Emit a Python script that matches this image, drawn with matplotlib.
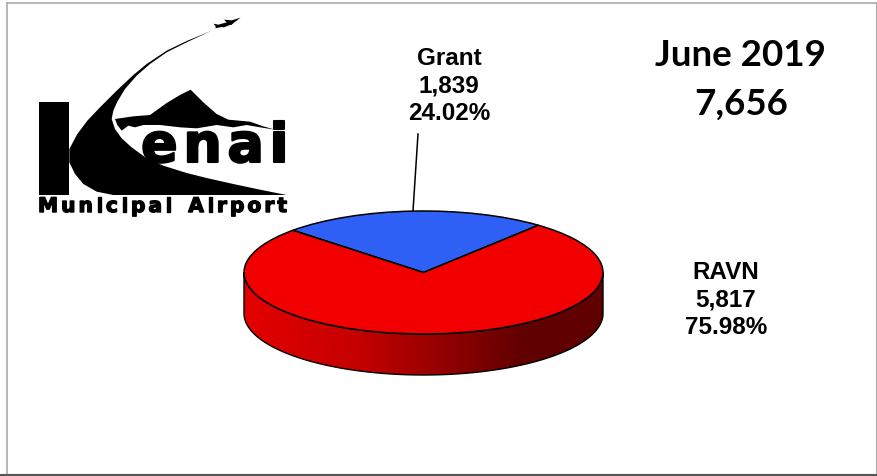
import numpy as np
import matplotlib
matplotlib.use('Agg')
import matplotlib.pyplot as plt
from matplotlib.patches import Polygon, PathPatch, Rectangle
from matplotlib.path import Path
from matplotlib.colors import LinearSegmentedColormap
import matplotlib.patheffects as pe

title = 'June 2019'
total = '7,656'
carriers = ['Grant', 'RAVN']
passengers = [1839, 5817]
shares = ['24.02%', '75.98%']
colors = ['#2f60f5', '#f20000']

W, H = 878, 477
fig = plt.figure(figsize=(W / 100, H / 100), dpi=100)

# page layer in pixel coordinates, y pointing down
ax = fig.add_axes([0, 0, 1, 1])
ax.set_xlim(0, W)
ax.set_ylim(H, 0)
ax.axis('off')

# slide border
ax.plot([7.5, 7.5], [3.5, 477], color='#aaaaaa', lw=1.2)
ax.plot([7.5, 877], [3.5, 3.5], color='#aaaaaa', lw=1.2)
ax.plot([877, 877], [3.5, 477], color='#aaaaaa', lw=1.5)
ax.plot([0, 878], [476.3, 476.3], color='#555555', lw=1.5)


def outline(pts):
    pts = np.array(pts, dtype=float)
    codes = [Path.MOVETO] + [Path.LINETO] * (len(pts) - 1) + [Path.CLOSEPOLY]
    return Path(np.vstack([pts, pts[0]]), codes)


def spaced_text(x0, x1, base, s, size, stroke=0.0):
    # one text per letter, spread evenly so the word runs from x0 to x1
    rend = fig.canvas.get_renderer()
    parts = []
    for ch in s:
        t = ax.text(0, base, ch, family='DejaVu Sans', weight='bold', fontsize=size, va='baseline', ha='left', color='black')
        if stroke:
            t.set_path_effects([pe.withStroke(linewidth=stroke, foreground='black')])
        w = t.get_window_extent(rend).width if ch != ' ' else size * 0.7
        parts.append((t, w))
    gap = (x1 - x0 - sum(p[1] for p in parts)) / (len(parts) - 1)
    x = x0
    for t, w in parts:
        t.set_x(x)
        x += w + gap


# logo, outlines traced on a 3x grid
logo = dict(facecolor='black', edgecolor='none')
ax.add_patch(Rectangle((39.5, 103), 30, 93, **logo))
swoosh = [(635, 95), (560, 126), (500, 155), (440, 195), (400, 228), (350, 275), (300, 325),
          (262, 365), (232, 405), (208, 450), (208, 490), (225, 525), (250, 555), (290, 578),
          (340, 588), (860, 588), (780, 572), (700, 555), (620, 537), (560, 522), (490, 500),
          (440, 478), (395, 445), (365, 418), (345, 390), (335, 360), (340, 335), (352, 308),
          (375, 270), (410, 230), (450, 195), (500, 160), (560, 130)]
ax.add_patch(PathPatch(outline(np.array(swoosh) / 3), **logo))
mountain = [(345, 360), (400, 352), (450, 348), (500, 312), (540, 288), (572, 272), (610, 310),
            (650, 345), (685, 362), (750, 368), (790, 382), (825, 392), (780, 385), (740, 378),
            (700, 385), (650, 378), (590, 388), (540, 385), (480, 378), (430, 378), (405, 385),
            (385, 380), (365, 395), (352, 378)]
ax.add_patch(Polygon(np.array(mountain) / 3, closed=True, **logo))
plane = [(722, 56), (695, 64), (672, 62), (680, 70), (655, 77), (641, 74), (648, 84),
         (645, 88), (665, 84), (672, 85), (690, 78), (694, 78), (702, 71)]
ax.add_patch(Polygon(np.array(plane) / 3, closed=True, **logo))
spaced_text(141, 288, 163, 'enai', 39, stroke=1.5)
spaced_text(38, 287, 213, 'Municipal Airport', 14.5, stroke=1.0)

# headline
ax.text(740, 55, title, family='Lato', weight='bold', fontsize=26.5, ha='center', va='center', color='black')
ax.text(741, 104, total, family='Lato', weight='bold', fontsize=26.5, ha='center', va='center', color='black')

# leader line from the Grant label to its slice
ax.plot([418, 413], [135, 212], color='black', lw=1.1)

# slice labels
lab = dict(family='Liberation Sans', weight='bold', fontsize=17.5, ha='center', va='center', color='black', linespacing=1.27)
ax.text(449, 86, f'{carriers[0]}\n{passengers[0]:,}\n{shares[0]}', **lab)
ax.text(726, 300, f'{carriers[1]}\n{passengers[1]:,}\n{shares[1]}', **lab)

# pie axes sit over the ellipse, drawn squashed for the tilted look
x0, x1, y0, y1 = 244, 603, 212, 335
depth = 41
pie_ax = fig.add_axes([x0 / W, 1 - (y1 + depth) / H, (x1 - x0) / W, (y1 - y0 + depth) / H])
dy = 2 * depth / (y1 - y0)
pie_ax.pie(passengers, startangle=50.2, colors=colors, radius=1, center=(0, 0),
           wedgeprops=dict(edgecolor='black', linewidth=1.1, zorder=5))
pie_ax.set_aspect('auto')
pie_ax.axis('off')
for p in pie_ax.patches:
    p.set_clip_on(False)

# side wall of the disc, shaded left to right
shade = LinearSegmentedColormap.from_list('wall', [(0, '#e40000'), (0.32, '#c40000'), (0.55, '#950000'),
                                                   (0.78, '#600000'), (1, '#600000')])
t = np.linspace(np.pi, 2 * np.pi, 200)
side_x = np.r_[np.cos(t), np.cos(t[::-1])]
side_y = np.r_[np.sin(t) - dy, np.sin(t[::-1])]
wall = Polygon(np.c_[side_x, side_y], closed=True, facecolor='none', edgecolor='black', linewidth=1.0,
               zorder=3, clip_on=False)
pie_ax.add_patch(wall)
im = pie_ax.imshow(np.linspace(0, 1, 256)[None, :], extent=(-1, 1, -1 - dy, 1), cmap=shade, aspect='auto', zorder=2)
im.set_clip_path(Polygon(np.c_[side_x, side_y], closed=True, transform=pie_ax.transData))
pie_ax.set_xlim(-1, 1)
pie_ax.set_ylim(-1 - dy, 1)

fig.savefig('out.png', dpi=100)
